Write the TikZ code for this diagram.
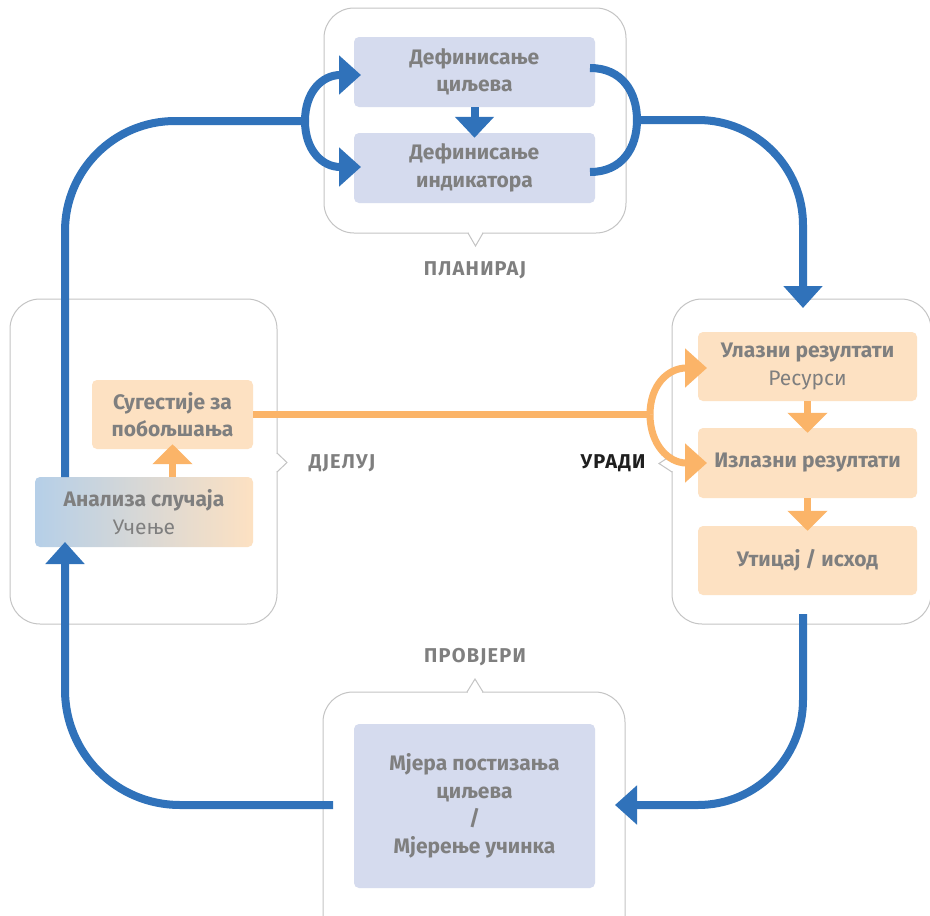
\documentclass[tikz,border=0pt]{standalone}
\usepackage{fontspec}
\setmainfont{Fira Sans}
\newfontfamily\lblfont[LetterSpace=6]{Fira Sans}
\usetikzlibrary{arrows.meta,calc}
\definecolor{bl}{HTML}{3072BA}
\definecolor{orl}{HTML}{FBB468}
\definecolor{orf}{HTML}{FDE1C2}
\definecolor{lav}{HTML}{D5DBEE}
\definecolor{txg}{HTML}{7F7F7F}
\definecolor{grpc}{HTML}{C4C4C4}
\definecolor{gleft}{HTML}{B5CFE8}
\tikzset{
  box/.style={rounded corners=5pt, draw=none, align=center, text=txg, font=\fontsize{21}{27.5}\selectfont\bfseries, inner sep=0pt},
  lavbox/.style={box, fill=lav, minimum width=241pt},
  orbox/.style={box, fill=orf, minimum width=219pt},
  grp/.style={draw=grpc, line width=1pt},
  lbl/.style={font=\lblfont\fontsize{20}{22}\selectfont\bfseries, text=txg},
  bline/.style={draw=bl, line width=8pt},
  bigarr/.style={bline, -{Triangle[width=38pt,length=22pt]}},
  oline/.style={draw=orl, line width=7pt},
  oarr/.style={oline, -{Triangle[width=38pt,length=22pt]}},
  sbarr/.style={bline, -{Triangle[width=38pt,length=21pt]}},
  soarr/.style={oline, -{Triangle[width=39pt,length=20pt]}}
}
\begin{document}
\begin{tikzpicture}[x=1pt,y=-1pt]
\clip (0,0) rectangle (930,916);
\fill[white] (0,0) rectangle (930,916);
% group outlines
\draw[grp, rounded corners=30pt] (324,8) rectangle (626,233);
\fill[white] (469,232) rectangle (482,234.5);
\draw[grp] (468,233) -- (475.5,246) -- (483,233);
\draw[grp, rounded corners=30pt] (10,299) rectangle (277,624);
\fill[white] (275.5,454) rectangle (278.5,471);
\draw[grp] (277,453) -- (287,462.5) -- (277,472);
\draw[grp, rounded corners=30pt] (672,299) rectangle (931,624);
\fill[white] (670.5,456) rectangle (673.5,471);
\draw[grp] (672,455) -- (659,463.5) -- (672,472);
\draw[grp, rounded corners=30pt] (323,692) rectangle (625,960);
\fill[white] (468,690.5) rectangle (482,693.5);
\draw[grp] (467,692) -- (475,679) -- (483,692);
% labels
\node[lbl] (plan) at (475,270) {ПЛАНИРАЈ};
\node[lbl] (djel) at (342,463) {ДЈЕЛУЈ};
\node[lbl, text=black!88] (urad) at (613,463) {УРАДИ};
\node[lbl] (prov) at (475,657) {ПРОВЈЕРИ};
% boxes
\node[lavbox, minimum height=70pt] (def1) at (474.5,72) {Дефинисање\\циљева};
\node[lavbox, minimum height=70pt] (def2) at (474.5,168) {Дефинисање\\индикатора};
\node[orbox, minimum height=69pt] (ul) at (807.5,366.5) {Улазни резултати\\{\mdseries Ресурси}};
\node[orbox, minimum height=70pt] (iz) at (807.5,463) {Излазни резултати};
\node[orbox, minimum height=69pt] (ut) at (807.5,560.5) {Утицај / исход};
\node[box, fill=orf, minimum width=161pt, minimum height=69pt] (sug) at (172.5,414.5) {Сугестије за\\побољшања};
\node[box, left color=gleft, right color=orf, minimum width=218pt, minimum height=70pt] (anal) at (144,512) {Анализа случаја\\{\mdseries Учење}};
\node[lavbox, minimum height=164pt] (mj) at (474.5,806) {Мјера постизања\\циљева\\/\\Мјерење учинка};
% coordinates
\coordinate (bL) at (333,805);
\coordinate (bR) at (615,805);
\coordinate (aIn) at (65,542);
\coordinate (aOut) at (65,477);
\coordinate (lj) at (305,121);
\coordinate (rj) at (637,120);
\coordinate (r1) at (590,68);
\coordinate (r2) at (590,172);
\coordinate (t1) at (361,75);
\coordinate (t2) at (361,167);
\coordinate (dTop) at (803,308);
\coordinate (dBot) at (803,614);
\coordinate (oj) at (650,414.5);
\coordinate (o1) at (707,368);
\coordinate (o2) at (707,463);
% blue connectors
\draw[bigarr, rounded corners=115pt] (bL) -| (aIn);
\draw[bline, rounded corners=110pt] (aOut) |- (lj);
\draw[bigarr] (lj) .. controls (305,92) and (322,75) .. (t1);
\draw[bigarr] (lj) .. controls (305,150) and (322,167) .. (t2);
\draw[bline] (r1) .. controls (622,68) and (637,92) .. (rj) .. controls (637,148) and (622,172) .. (r2);
\draw[bigarr, rounded corners=105pt] (rj) -| (dTop);
\draw[bigarr, rounded corners=105pt] (dBot) |- (bR);
\draw[sbarr] (def1.south) -- ($(def2.north)+(0,5)$);
% orange connectors
\draw[oline] (sug.east) -- (oj);
\draw[oarr] (oj) .. controls (650,385) and (668,368) .. (o1);
\draw[oarr] (oj) .. controls (650,444) and (668,463) .. (o2);
\draw[soarr] (ul.south) -- ($(iz.north)+(0,5)$);
\draw[soarr] (iz.south) -- ($(ut.north)+(0,5)$);
\draw[soarr] (anal.north -| sug.south) -- ($(sug.south)+(0,-5)$);
\end{tikzpicture}
\end{document}
